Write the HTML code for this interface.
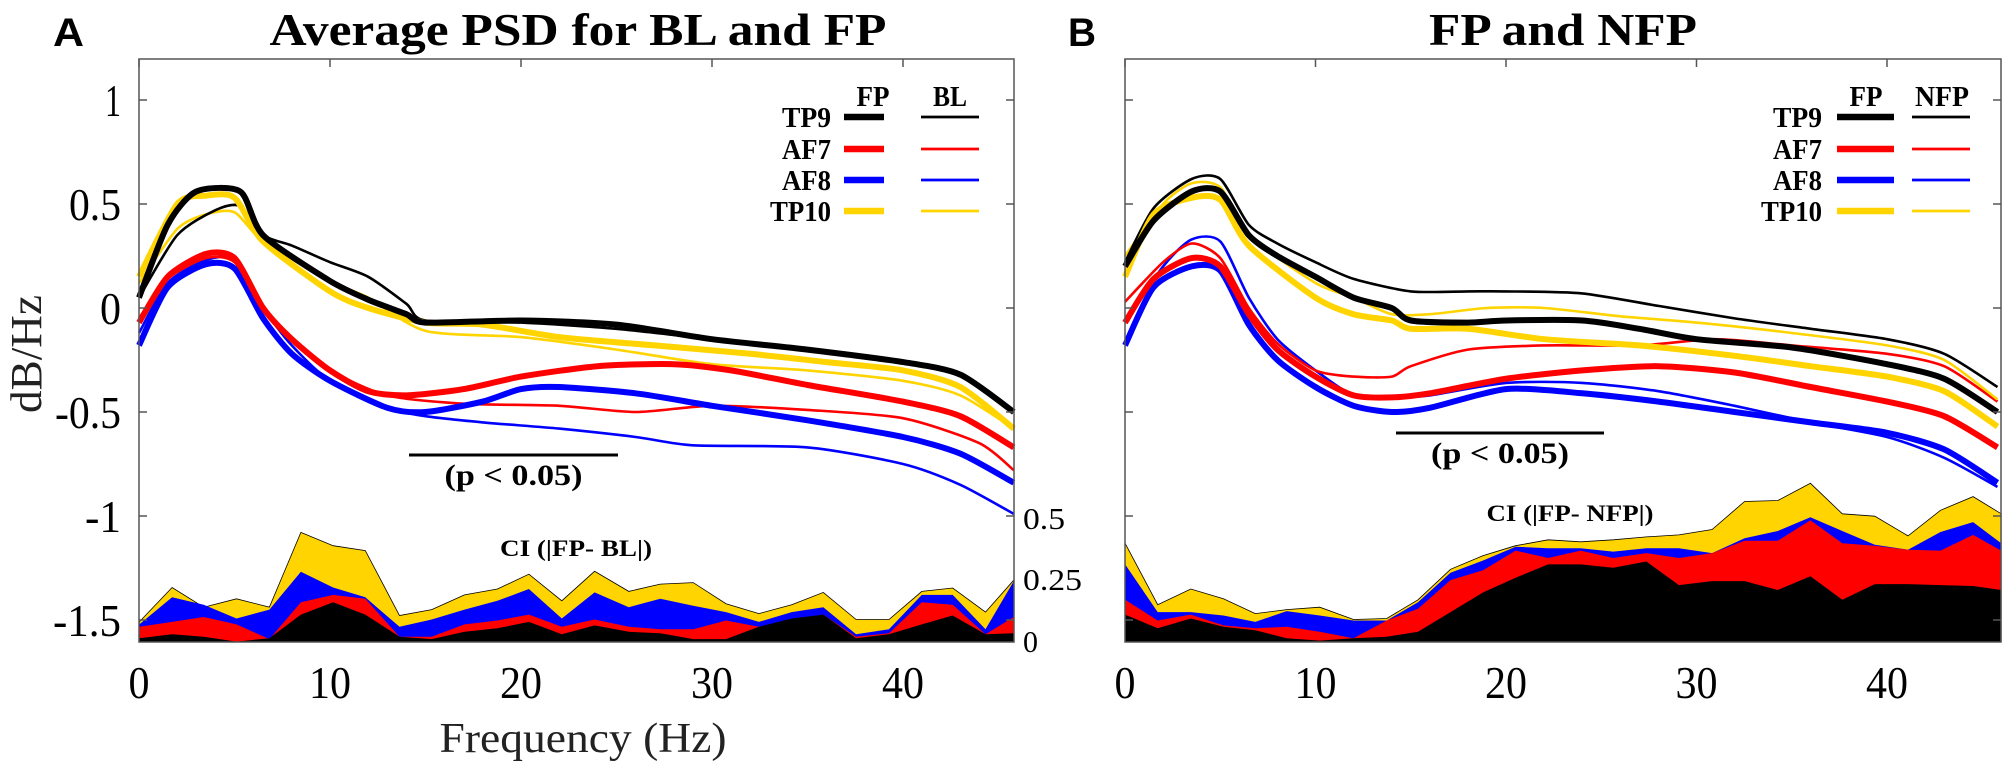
<!DOCTYPE html>
<html><head><meta charset="utf-8"><style>
html,body{margin:0;padding:0;background:#fff;}
svg{display:block;}
</style></head><body>
<svg id="s" width="2011" height="771" xmlns="http://www.w3.org/2000/svg" font-family="Liberation Serif, serif"></svg>
<script>
const S=document.getElementById('s');
let out='';
function T(x,y,s,size,anchor,weight,len,fam,extra){
  out+=`<text x="${x}" y="${y}" font-size="${size}" text-anchor="${anchor||'start'}" font-weight="${weight||'normal'}"${len?` textLength="${len}" lengthAdjust="spacingAndGlyphs"`:''}${fam?` font-family="${fam}"`:''} ${extra||''}>${s}</text>`;
}
function smooth(pts){
  let d=`M${pts[0][0].toFixed(1)},${pts[0][1].toFixed(1)}`;
  for(let i=0;i<pts.length-1;i++){
    const p0=pts[i-1]||pts[i],p1=pts[i],p2=pts[i+1],p3=pts[i+2]||p2;
    const k=8;
    const c1=[p1[0]+(p2[0]-p0[0])/k,p1[1]+(p2[1]-p0[1])/k];
    const c2=[p2[0]-(p3[0]-p1[0])/k,p2[1]-(p3[1]-p1[1])/k];
    d+=`C${c1[0].toFixed(1)},${c1[1].toFixed(1)} ${c2[0].toFixed(1)},${c2[1].toFixed(1)} ${p2[0].toFixed(1)},${p2[1].toFixed(1)}`;
  }
  return d;
}
const COL={k:'#000',r:'#ff0000',b:'#0000ff',y:'#ffd400'};
function panel(P){
  const X=f=>P.x0+f*P.hz, Y=v=>308-v*208;
  const ci=P.ci, xs=ci.x.map(v=>P.cx(v));
  ['y','b','r','k'].forEach(c=>{
    const ys=ci[c].map(v=>v/2.034);
    let d=`M${xs[0]},642`;
    xs.forEach((x,i)=>d+=`L${x.toFixed(1)},${ys[i].toFixed(1)}`);
    d+=`L${xs[xs.length-1]},642Z`;
    out+=`<path d="${d}" fill="${COL[c]}" stroke="${c==='y'?'#000':'none'}" stroke-width="0.8"/>`;
  });
  P.curves.forEach(c=>{
    const pts=c.d.map(p=>[X(p[0]),Y(p[1])]);
    out+=`<path d="${smooth(pts)}" fill="none" stroke="${COL[c.c]}" stroke-width="${c.w}" stroke-linejoin="round"/>`;
  });
  out+=`<rect x="${P.x0}" y="59" width="${P.x1-P.x0}" height="583" fill="none" stroke="#555" stroke-width="1.5"/>`;
  [1,0.5,0,-0.5,-1,-1.5].forEach(v=>{
    out+=`<line x1="${P.x0}" y1="${Y(v)}" x2="${P.x0+8}" y2="${Y(v)}" stroke="#555" stroke-width="1.5"/>`;
    out+=`<line x1="${P.x1}" y1="${Y(v)}" x2="${P.x1-8}" y2="${Y(v)}" stroke="#555" stroke-width="1.5"/>`;
  });
  [0,10,20,30,40].forEach(f=>{
    out+=`<line x1="${X(f)}" y1="59" x2="${X(f)}" y2="67" stroke="#555" stroke-width="1.5"/>`;
    T(X(f),698,String(f),46,'middle','normal',f?42:21);
  });
  const L=P.leg;
  T(L.h1,106,'FP',28,'middle','bold',33);
  T(L.h2,106,L.h2t,28,'middle','bold',L.h2w);
  [['TP9','k',117,49],['AF7','r',149,49],['AF8','b',180,49],['TP10','y',211,61]].forEach(r=>{
    T(L.lx,r[2]+10,r[0],28,'end','bold',r[3]);
    out+=`<line x1="${L.t1a}" y1="${r[2]}" x2="${L.t1b}" y2="${r[2]}" stroke="${COL[r[1]]}" stroke-width="6.5"/>`;
    out+=`<line x1="${L.t2a}" y1="${r[2]}" x2="${L.t2b}" y2="${r[2]}" stroke="${COL[r[1]]}" stroke-width="2.8"/>`;
  });
  out+=`<line x1="${P.pb[0]}" y1="${P.pb[2]}" x2="${P.pb[1]}" y2="${P.pb[2]}" stroke="#000" stroke-width="3"/>`;
  T((P.pb[0]+P.pb[1])/2,P.pb[2]+30,'(p &lt; 0.05)',30,'middle','bold',138);
  T(P.cit[0],P.cit[1],P.cit[2],23,'middle','bold',P.cit[3]);
}
const ciXA=[212,262,310,360,410,458,507,556,608,657,707,757,805,855,905,957,1005,1055,1105,1155,1205,1253,1303,1353,1403,1450,1500,1543];
panel({x0:139,x1:1014,hz:19.1,
 ci:{x:ciXA,
  y:[1265,1195,1235,1218,1235,1083,1110,1120,1252,1240,1210,1198,1168,1222,1162,1203,1188,1185,1228,1248,1230,1205,1260,1260,1203,1196,1245,1180],
  b:[1270,1215,1230,1258,1240,1163,1195,1215,1275,1260,1240,1222,1198,1258,1205,1235,1218,1232,1245,1265,1245,1235,1290,1280,1210,1210,1280,1182],
  r:[1275,1265,1255,1270,1300,1225,1210,1218,1295,1295,1270,1262,1250,1275,1260,1275,1280,1280,1262,1275,1265,1250,1295,1288,1225,1230,1290,1255],
  k:[1298,1290,1295,1305,1298,1250,1225,1250,1295,1300,1285,1278,1265,1290,1272,1285,1288,1300,1300,1275,1258,1250,1298,1290,1270,1252,1290,1288]},
 cx:v=>v/1.522,
 curves:[
  {c:'b',w:2.6,d:[[0,-0.12],[1.5,0.12],[3.5,0.23],[5,0.23],[6.5,0],[8,-0.18],[10,-0.35],[13,-0.48],[15,-0.52],[18,-0.55],[22,-0.58],[26,-0.62],[29,-0.66],[35,-0.67],[40,-0.75],[43,-0.85],[45.8,-0.99]]},
  {c:'r',w:2.6,d:[[0,-0.05],[1.5,0.14],[3.5,0.24],[5,0.22],[6.5,0],[8,-0.16],[10,-0.3],[13,-0.42],[17,-0.46],[22,-0.47],[26,-0.5],[30,-0.47],[35,-0.49],[40,-0.53],[44,-0.65],[45.8,-0.78]]},
  {c:'y',w:2.6,d:[[0,0.12],[2,0.38],[3.5,0.45],[5,0.46],[6.5,0.32],[10,0.13],[12,0.05],[15,-0.11],[20,-0.14],[25,-0.2],[30,-0.27],[35,-0.3],[40,-0.35],[43,-0.42],[45.8,-0.58]]},
  {c:'k',w:2.6,d:[[0,0.05],[2,0.35],[4,0.47],[5.3,0.49],[6.5,0.35],[8,0.3],[10,0.22],[12,0.15],[14,0.02],[15,-0.06],[20,-0.07],[25,-0.1],[30,-0.15],[35,-0.2],[40,-0.26],[43,-0.32],[45.8,-0.5]]},
  {c:'b',w:6,d:[[0,-0.18],[1.5,0.1],[3.5,0.21],[5,0.19],[6.5,-0.05],[8,-0.22],[10,-0.35],[13,-0.48],[15,-0.5],[18,-0.45],[20,-0.39],[22,-0.38],[26,-0.41],[30,-0.47],[35,-0.54],[40,-0.62],[43,-0.7],[45.8,-0.84]]},
  {c:'r',w:6,d:[[0,-0.07],[1.5,0.15],[3.5,0.26],[5,0.24],[6.5,0],[8,-0.15],[10,-0.3],[12,-0.4],[14,-0.42],[17,-0.39],[20,-0.33],[24,-0.28],[28,-0.27],[31,-0.3],[35,-0.37],[40,-0.45],[43,-0.52],[45.8,-0.67]]},
  {c:'y',w:6,d:[[0,0.15],[2,0.5],[3.5,0.54],[5,0.53],[6.5,0.32],[10,0.08],[12,0],[15,-0.07],[18,-0.08],[22,-0.14],[27,-0.18],[32,-0.22],[36,-0.26],[40,-0.3],[43,-0.38],[45.8,-0.58]]},
  {c:'k',w:6,d:[[0,0.05],[1.5,0.4],[3,0.56],[5.3,0.56],[6.5,0.35],[10,0.13],[12,0.04],[14,-0.03],[15,-0.07],[20,-0.06],[25,-0.08],[30,-0.15],[35,-0.2],[40,-0.26],[43,-0.32],[45.8,-0.5]]}
 ],
 leg:{h1:873,h2:950,h2t:'BL',h2w:34,t1a:844,t1b:884,t2a:921,t2b:979,lx:831},
 pb:[409,618,455],
 cit:[576,556,'CI (|FP- BL|)',152]
});
const ciXB=[152,204,257,309,360,410,463,517,570,620,672,724,776,828,880,932,985,1037,1090,1142,1195,1247,1298,1350,1403,1455,1507,1552];
panel({x0:1125,x1:2001,hz:19.05,
 ci:{x:ciXB,
  y:[1105,1230,1198,1218,1248,1240,1235,1260,1258,1220,1158,1130,1110,1098,1102,1098,1092,1088,1077,1020,1018,983,1045,1050,1090,1038,1010,1045],
  b:[1148,1245,1245,1252,1265,1243,1252,1262,1262,1225,1165,1140,1112,1115,1115,1122,1115,1115,1125,1095,1080,1052,1080,1108,1118,1082,1062,1105],
  r:[1220,1262,1250,1272,1278,1275,1285,1298,1262,1238,1180,1160,1120,1135,1120,1135,1125,1135,1125,1100,1100,1058,1105,1110,1118,1120,1088,1120],
  k:[1250,1278,1258,1275,1282,1298,1303,1298,1295,1285,1245,1205,1175,1148,1148,1155,1142,1190,1182,1182,1200,1172,1220,1188,1188,1190,1192,1200]},
 cx:v=>1030+v/1.598,
 curves:[
  {c:'b',w:2.6,d:[[0,-0.07],[2,0.2],[3.5,0.33],[5,0.32],[6.5,0.05],[8,-0.15],[10,-0.3],[12,-0.42],[14,-0.43],[16,-0.42],[20,-0.36],[24,-0.36],[28,-0.4],[32,-0.47],[36,-0.55],[40,-0.62],[43,-0.72],[45.8,-0.86]]},
  {c:'r',w:2.6,d:[[0,0.03],[2,0.22],[3.5,0.31],[5,0.24],[6.5,0],[8,-0.17],[10,-0.3],[12,-0.33],[14,-0.33],[15,-0.28],[18,-0.2],[22,-0.18],[27,-0.18],[31,-0.15],[35,-0.18],[40,-0.22],[43,-0.28],[45.8,-0.45]]},
  {c:'y',w:2.6,d:[[0,0.25],[2,0.5],[3.5,0.6],[5,0.58],[6.5,0.35],[10,0.12],[12,0.05],[14,-0.03],[16,-0.03],[19,0],[22,0],[26,-0.04],[30,-0.07],[35,-0.12],[40,-0.18],[43,-0.25],[45.8,-0.44]]},
  {c:'k',w:2.6,d:[[0,0.22],[1.5,0.48],[3.5,0.62],[5,0.62],[6.5,0.4],[8,0.31],[10,0.22],[12,0.14],[15,0.08],[18,0.08],[20,0.08],[24,0.07],[28,0.01],[32,-0.05],[36,-0.1],[40,-0.15],[43,-0.22],[45.8,-0.38]]},
  {c:'b',w:6,d:[[0,-0.18],[1.5,0.1],[3.5,0.2],[5,0.18],[6.5,-0.08],[8,-0.25],[10,-0.38],[12,-0.47],[14,-0.5],[16,-0.48],[20,-0.39],[24,-0.41],[28,-0.45],[32,-0.5],[36,-0.55],[40,-0.6],[43,-0.68],[45.8,-0.84]]},
  {c:'r',w:6,d:[[0,-0.07],[1.5,0.14],[3.5,0.24],[5,0.2],[6.5,-0.03],[8,-0.2],[10,-0.33],[12,-0.42],[14,-0.43],[16,-0.41],[20,-0.34],[24,-0.3],[28,-0.28],[32,-0.31],[36,-0.38],[40,-0.45],[43,-0.52],[45.8,-0.67]]},
  {c:'y',w:6,d:[[0,0.15],[1.5,0.45],[3.5,0.53],[5,0.52],[6.5,0.3],[10,0.05],[12,-0.03],[14,-0.06],[15,-0.1],[18,-0.1],[22,-0.15],[27,-0.18],[32,-0.23],[36,-0.28],[40,-0.33],[43,-0.4],[45.8,-0.57]]},
  {c:'k',w:6,d:[[0,0.2],[1.5,0.42],[3.5,0.56],[5,0.56],[6.5,0.35],[8,0.25],[10,0.15],[12,0.05],[14,0],[15,-0.06],[18,-0.07],[20,-0.06],[24,-0.06],[27,-0.1],[30,-0.15],[35,-0.19],[40,-0.27],[43,-0.34],[45.8,-0.5]]}
 ],
 leg:{h1:1866,h2:1942,h2t:'NFP',h2w:54,t1a:1837,t1b:1894,t2a:1912,t2b:1970,lx:1822},
 pb:[1396,1604,433],
 cit:[1570,521,'CI (|FP- NFP|)',167]
});
[[1,'1',16],[0.5,'0.5',52],[0,'0',21],[-0.5,'-0.5',66],[-1,'-1',36],[-1.5,'-1.5',68]].forEach(a=>{
  T(121,308-a[0]*208+16,a[1],46,'end','normal',a[2]);
});
T(1023,529,'0.5',31,'start','normal',42);
T(1023,590,'0.25',31,'start','normal',59);
T(1023,652,'0',31,'start','normal',15);
T(578,45,'Average PSD for BL and FP',46,'middle','bold',617);
T(1563,45,'FP and NFP',46,'middle','bold',268);
T(53,46,'A',40,'start','bold',31,'Liberation Sans, sans-serif');
T(1068,46,'B',40,'start','bold',28,'Liberation Sans, sans-serif');
T(583,752,'Frequency (Hz)',42,'middle','normal',287,null,'fill="#222"');
out+=`<text x="0" y="0" font-size="44" text-anchor="middle" textLength="118" lengthAdjust="spacingAndGlyphs" transform="translate(41,354) rotate(-90)" fill="#222">dB/Hz</text>`;
S.innerHTML=out;
</script>
</body></html>
